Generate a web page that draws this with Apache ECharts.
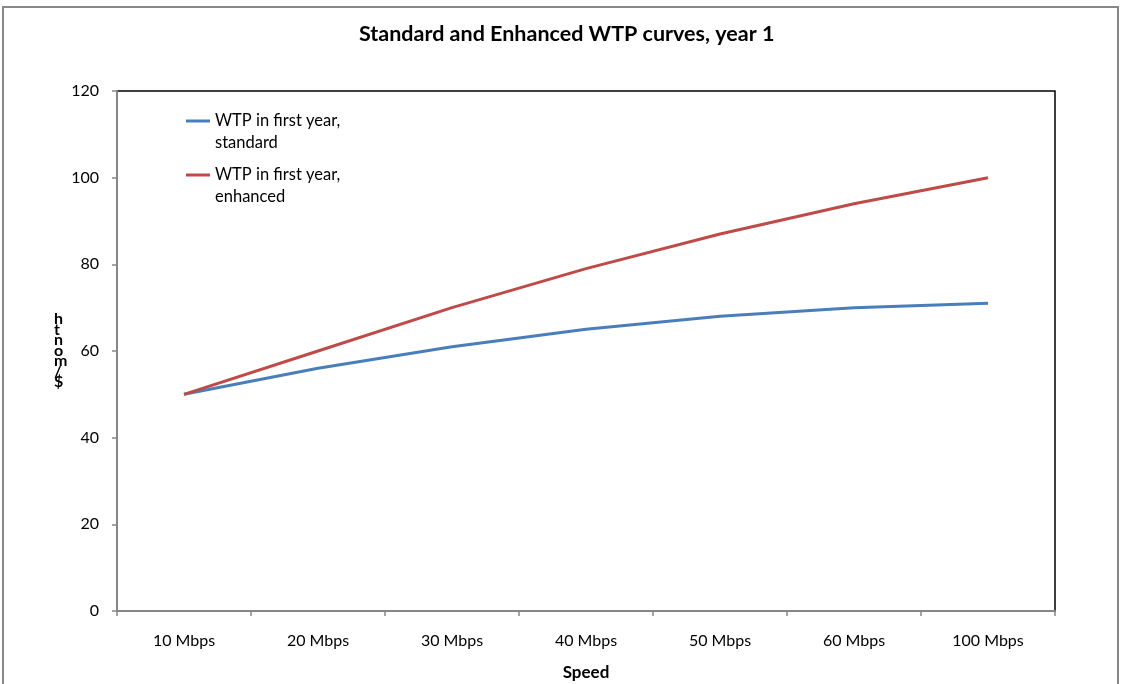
<!DOCTYPE html>
<html><head><meta charset="utf-8">
<script src="https://cdn.jsdelivr.net/npm/echarts@6/dist/echarts.min.js"></script>
<style>html,body{margin:0;padding:0;background:#fff}#c{width:1122px;height:684px}</style>
</head><body><div id="c"></div>
<script>
const categories = ['10 Mbps','20 Mbps','30 Mbps','40 Mbps','50 Mbps','60 Mbps','100 Mbps'];
const standardWTP = [50, 56, 61, 65, 68, 70, 71];
const enhancedWTP = [50, 60, 70, 79, 87, 94, 100];
const seriesNames = ['WTP in first year,\nstandard', 'WTP in first year,\nenhanced'];
const yTicks = {min: 0, max: 120, interval: 20};
const FONT = 'Lato, "Open Sans", sans-serif';

const chart = echarts.init(document.getElementById('c'));
chart.setOption({
  animation: false,
  backgroundColor: '#fff',
  title: {
    text: 'Standard and Enhanced WTP curves, year 1',
    left: 354, top: 18,
    textStyle: {fontFamily: FONT, fontWeight: 'bold', fontSize: 21.5, color: '#000'}
  },
  legend: {
    orient: 'vertical', left: 181, top: 105, itemGap: 10,
    icon: 'path://M0,0 M0,9.5 L24,9.5 L24,12.5 L0,12.5 Z M0,44', itemWidth: 24, itemHeight: 44,
    textStyle: {fontFamily: FONT, fontSize: 16.5, color: '#000', lineHeight: 22},
    data: seriesNames
  },
  graphic: [
    {type: 'rect', shape: {x: 3, y: 7, width: 1115, height: 700}, style: {fill: 'none', stroke: '#888', lineWidth: 2}, silent: true},
    {type: 'text', left: 54, top: 311, style: {text: 'h\nt\nn\no\nm\n/\n$', fontFamily: FONT, fontWeight: 'bold', fontSize: 16, lineHeight: 10.5, fill: '#000', align: 'center'}}
  ],
  grid: {left: 117, right: 67, top: 91, bottom: 73, show: true, borderColor: '#000', borderWidth: 1.5, containLabel: false, outerBoundsMode: 'none'},
  xAxis: {
    type: 'category', data: categories, boundaryGap: true,
    name: 'Speed', nameLocation: 'middle', nameGap: 53,
    nameTextStyle: {fontFamily: FONT, fontWeight: 'bold', fontSize: 17, color: '#000'},
    axisLine: {lineStyle: {color: '#868686', width: 2}},
    axisTick: {show: true, alignWithLabel: false, length: 5, lineStyle: {color: '#868686', width: 1.5}},
    axisLabel: {fontFamily: FONT, fontSize: 16, color: '#000', margin: 22},
    splitLine: {show: false}
  },
  yAxis: {
    type: 'value', min: yTicks.min, max: yTicks.max, interval: yTicks.interval,
    axisLine: {show: true, lineStyle: {color: '#868686', width: 2}},
    axisTick: {show: true, length: 5, lineStyle: {color: '#868686', width: 1.5}},
    axisLabel: {fontFamily: FONT, fontSize: 16, color: '#000', margin: 18},
    splitLine: {show: false}
  },
  series: [
    {name: seriesNames[0], type: 'line', data: standardWTP, symbol: 'none', smooth: false,
     lineStyle: {color: '#4a7ebb', width: 3}, itemStyle: {color: '#4a7ebb'}},
    {name: seriesNames[1], type: 'line', data: enhancedWTP, symbol: 'none', smooth: false,
     lineStyle: {color: '#be4b48', width: 3}, itemStyle: {color: '#be4b48'}}
  ]
});
</script></body></html>
